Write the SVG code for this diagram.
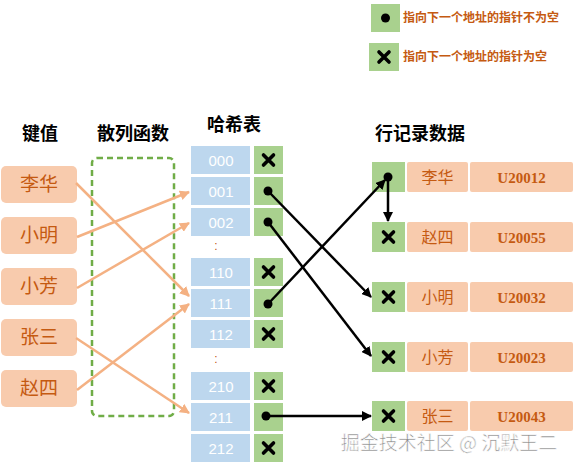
<svg xmlns="http://www.w3.org/2000/svg" width="574" height="468" viewBox="0 0 574 468">
<style>
.key{fill:#F8CBAD}
.kt{font-family:"Liberation Serif","Noto Sans CJK SC",serif;fill:#C55A11;text-anchor:middle}
.kb{font-weight:bold}
.hd{font-family:"Liberation Serif","Noto Sans CJK SC",serif;font-weight:bold;fill:#000;font-size:18px;text-anchor:middle}
.blue{fill:#BDD7EE}
.green{fill:#A9D18E}
.num{font-family:"Liberation Sans",sans-serif;fill:#fff;font-size:15px;text-anchor:middle}
.x{stroke:#000;stroke-width:3.6;stroke-linecap:round;fill:none}
.oa{stroke:#F4B183;stroke-width:2.5;fill:none;marker-end:url(#ao)}
.ba{stroke:#000;stroke-width:2.5;fill:none;marker-end:url(#ab)}
.lg{font-family:"Liberation Serif","Noto Sans CJK SC",serif;font-weight:bold;fill:#C55A11;font-size:12px}
</style>
<defs>
<marker id="ao" markerWidth="10" markerHeight="10" refX="9" refY="5" orient="auto" markerUnits="userSpaceOnUse"><path d="M0,0 L10,5 L0,10 z" fill="#F4B183"/></marker>
<marker id="ab" markerWidth="10" markerHeight="10" refX="9" refY="5" orient="auto" markerUnits="userSpaceOnUse"><path d="M0,0 L10,5 L0,10 z" fill="#000"/></marker>
<path id="xm" d="M-5,-5 L5,5 M5,-5 L-5,5"/>
</defs>
<rect width="574" height="468" fill="#fff"/>

<g id="legend">
<rect class="green" x="371" y="4" width="29" height="28"/>
<circle cx="385.5" cy="18" r="4.5" fill="#000"/>
<text class="lg" x="403" y="22">指向下一个地址的指针不为空</text>
<rect class="green" x="369" y="43" width="30" height="28"/>
<use href="#xm" class="x" x="384" y="57"/>
<text class="lg" x="403" y="61">指向下一个地址的指针为空</text>
</g>

<g id="headers">
<text class="hd" x="40" y="140">键值</text>
<text class="hd" x="133" y="140">散列函数</text>
<text class="hd" x="234" y="131">哈希表</text>
<text class="hd" x="420" y="140">行记录数据</text>
</g>

<g id="keys">
<g id="k-lihua"><rect class="key" x="1" y="166" width="76" height="37" rx="5"/><text class="kt" x="39" y="191" font-size="19">李华</text></g>
<g id="k-xiaoming"><rect class="key" x="1" y="217" width="76" height="37" rx="5"/><text class="kt" x="39" y="242" font-size="19">小明</text></g>
<g id="k-xiaofang"><rect class="key" x="1" y="268" width="76" height="37" rx="5"/><text class="kt" x="39" y="293" font-size="19">小芳</text></g>
<g id="k-zhangsan"><rect class="key" x="1" y="319" width="76" height="37" rx="5"/><text class="kt" x="39" y="344" font-size="19">张三</text></g>
<g id="k-zhaosi"><rect class="key" x="1" y="370" width="76" height="37" rx="5"/><text class="kt" x="39" y="395" font-size="19">赵四</text></g>
</g>

<g id="hashfn">
<rect x="92" y="158" width="82" height="258" rx="5" fill="none" stroke="#70AD47" stroke-width="2.5" stroke-dasharray="6,4"/>
</g>

<g id="hashtable">
<g id="h000"><rect class="blue" x="191" y="146" width="59" height="28"/><text class="num" x="221" y="166">000</text><rect class="green" x="254" y="146" width="29" height="28"/><use href="#xm" class="x" x="268.5" y="160"/></g>
<g id="h001"><rect class="blue" x="191" y="177" width="59" height="28"/><text class="num" x="221" y="197">001</text><rect class="green" x="254" y="177" width="29" height="28"/></g>
<g id="h002"><rect class="blue" x="191" y="208" width="59" height="28"/><text class="num" x="221" y="228">002</text><rect class="green" x="254" y="208" width="29" height="28"/></g>
<text x="216" y="250" font-family="Liberation Sans,sans-serif" font-size="12" fill="#C55A11" text-anchor="middle">:</text>
<g id="h110"><rect class="blue" x="191" y="258" width="59" height="28"/><text class="num" x="221" y="278">110</text><rect class="green" x="254" y="258" width="29" height="28"/><use href="#xm" class="x" x="268.5" y="272"/></g>
<g id="h111"><rect class="blue" x="191" y="289" width="59" height="28"/><text class="num" x="221" y="309">111</text><rect class="green" x="254" y="289" width="29" height="28"/></g>
<g id="h112"><rect class="blue" x="191" y="320" width="59" height="28"/><text class="num" x="221" y="340">112</text><rect class="green" x="254" y="320" width="29" height="28"/><use href="#xm" class="x" x="268.5" y="334"/></g>
<text x="216" y="363" font-family="Liberation Sans,sans-serif" font-size="12" fill="#C55A11" text-anchor="middle">:</text>
<g id="h210"><rect class="blue" x="191" y="372" width="59" height="28"/><text class="num" x="221" y="392">210</text><rect class="green" x="254" y="372" width="29" height="28"/><use href="#xm" class="x" x="268.5" y="386"/></g>
<g id="h211"><rect class="blue" x="191" y="403" width="59" height="28"/><text class="num" x="221" y="423">211</text><rect class="green" x="254" y="403" width="29" height="28"/></g>
<g id="h212"><rect class="blue" x="191" y="434" width="59" height="28"/><text class="num" x="221" y="454">212</text><rect class="green" x="254" y="434" width="29" height="28"/><use href="#xm" class="x" x="268.5" y="448"/></g>
</g>

<g id="records">
<g id="r-lihua"><rect class="green" x="372" y="162" width="33" height="30"/><rect class="key" x="407" y="162" width="61" height="30" rx="2"/><text class="kt" x="437.5" y="183" font-size="16">李华</text><rect class="key" x="470" y="162" width="103" height="30" rx="2"/><text class="kt kb" x="521.5" y="183" font-size="15">U20012</text></g>
<g id="r-zhaosi"><rect class="green" x="372" y="222" width="33" height="30"/><use href="#xm" class="x" x="388.5" y="237"/><rect class="key" x="407" y="222" width="61" height="30" rx="2"/><text class="kt" x="437.5" y="243" font-size="16">赵四</text><rect class="key" x="470" y="222" width="103" height="30" rx="2"/><text class="kt kb" x="521.5" y="243" font-size="15">U20055</text></g>
<g id="r-xiaoming"><rect class="green" x="372" y="282" width="33" height="30"/><use href="#xm" class="x" x="388.5" y="297"/><rect class="key" x="407" y="282" width="61" height="30" rx="2"/><text class="kt" x="437.5" y="303" font-size="16">小明</text><rect class="key" x="470" y="282" width="103" height="30" rx="2"/><text class="kt kb" x="521.5" y="303" font-size="15">U20032</text></g>
<g id="r-xiaofang"><rect class="green" x="372" y="342" width="33" height="30"/><use href="#xm" class="x" x="388.5" y="357"/><rect class="key" x="407" y="342" width="61" height="30" rx="2"/><text class="kt" x="437.5" y="363" font-size="16">小芳</text><rect class="key" x="470" y="342" width="103" height="30" rx="2"/><text class="kt kb" x="521.5" y="363" font-size="15">U20023</text></g>
<g id="r-zhangsan"><rect class="green" x="372" y="401" width="33" height="30"/><use href="#xm" class="x" x="388.5" y="416"/><rect class="key" x="407" y="401" width="61" height="30" rx="2"/><text class="kt" x="437.5" y="422" font-size="16">张三</text><rect class="key" x="470" y="401" width="103" height="30" rx="2"/><text class="kt kb" x="521.5" y="422" font-size="15">U20043</text></g>
</g>

<g id="connectors">
<line class="oa" x1="76" y1="183" x2="189" y2="296"/>
<line class="oa" x1="77" y1="237" x2="189" y2="192"/>
<line class="oa" x1="77" y1="288" x2="189" y2="223"/>
<line class="oa" x1="76" y1="338" x2="189" y2="413"/>
<line class="oa" x1="77" y1="390" x2="189" y2="304"/>
<line class="ba" x1="268" y1="191" x2="371" y2="297"/>
<line class="ba" x1="268" y1="222" x2="371" y2="356"/>
<line class="ba" x1="268" y1="304" x2="385" y2="180"/>
<line class="ba" x1="388" y1="177" x2="388" y2="221"/>
<line class="ba" x1="266" y1="416" x2="371" y2="416"/>
<circle cx="268" cy="191" r="4.5"/>
<circle cx="268" cy="222" r="4.5"/>
<circle cx="268" cy="304" r="4.5"/>
<circle cx="266" cy="416" r="4.5"/>
<circle cx="388" cy="177" r="4.5"/>
</g>

<text x="449" y="450" font-family="Noto Sans CJK SC,sans-serif" font-size="19" fill="#8a8a8a" stroke="#fff" stroke-width="0.6" text-anchor="middle">掘金技术社区 @ 沉默王二</text>
</svg>
